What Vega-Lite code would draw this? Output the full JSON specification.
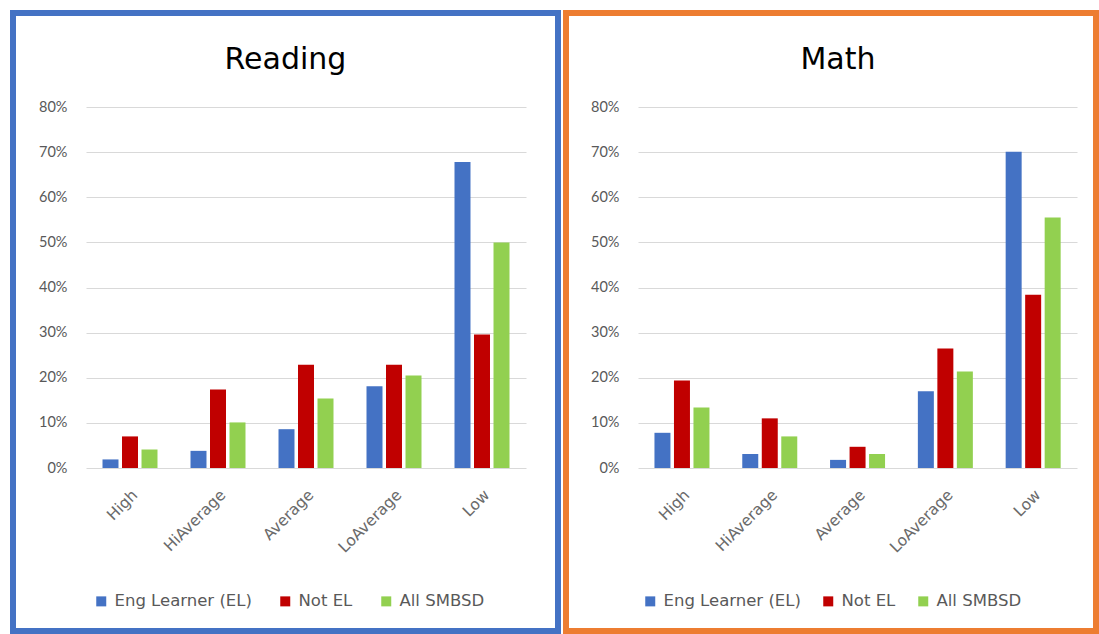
{
  "$schema": "https://vega.github.io/schema/vega-lite/v6.json",
  "padding": {"left": 10, "top": 10, "right": 0, "bottom": 0},
  "spacing": 2,
  "background": "white",
  "config": {
    "font": "Lato",
    "axis": {"labelFont": "Lato", "labelColor": "#595959", "labelFontSize": 14.5, "gridColor": "#d9d9d9", "gridWidth": 1, "domain": false, "ticks": false, "tickSize": 0, "title": null},
    "axisX": {"labelFont": "DejaVu Sans", "labelFontSize": 15.5, "labelColor": "#6a6a6a"},
    "legend": {"labelFont": "DejaVu Sans", "labelColor": "#595959", "labelFontSize": 16.5},
    "title": {"font": "DejaVu Sans", "fontSize": 30, "fontWeight": "normal", "color": "#000000"}
  },
  "data": {"values": [
    {"subject": "Reading", "level": "High", "group": "Eng Learner (EL)", "pct": 0.019},
    {"subject": "Reading", "level": "High", "group": "Not EL", "pct": 0.070},
    {"subject": "Reading", "level": "High", "group": "All SMBSD", "pct": 0.041},
    {"subject": "Reading", "level": "HiAverage", "group": "Eng Learner (EL)", "pct": 0.038},
    {"subject": "Reading", "level": "HiAverage", "group": "Not EL", "pct": 0.174},
    {"subject": "Reading", "level": "HiAverage", "group": "All SMBSD", "pct": 0.101},
    {"subject": "Reading", "level": "Average", "group": "Eng Learner (EL)", "pct": 0.086},
    {"subject": "Reading", "level": "Average", "group": "Not EL", "pct": 0.229},
    {"subject": "Reading", "level": "Average", "group": "All SMBSD", "pct": 0.154},
    {"subject": "Reading", "level": "LoAverage", "group": "Eng Learner (EL)", "pct": 0.181},
    {"subject": "Reading", "level": "LoAverage", "group": "Not EL", "pct": 0.229},
    {"subject": "Reading", "level": "LoAverage", "group": "All SMBSD", "pct": 0.205},
    {"subject": "Reading", "level": "Low", "group": "Eng Learner (EL)", "pct": 0.678},
    {"subject": "Reading", "level": "Low", "group": "Not EL", "pct": 0.296},
    {"subject": "Reading", "level": "Low", "group": "All SMBSD", "pct": 0.500},
    {"subject": "Math", "level": "High", "group": "Eng Learner (EL)", "pct": 0.078},
    {"subject": "Math", "level": "High", "group": "Not EL", "pct": 0.194},
    {"subject": "Math", "level": "High", "group": "All SMBSD", "pct": 0.134},
    {"subject": "Math", "level": "HiAverage", "group": "Eng Learner (EL)", "pct": 0.031},
    {"subject": "Math", "level": "HiAverage", "group": "Not EL", "pct": 0.110},
    {"subject": "Math", "level": "HiAverage", "group": "All SMBSD", "pct": 0.070},
    {"subject": "Math", "level": "Average", "group": "Eng Learner (EL)", "pct": 0.018},
    {"subject": "Math", "level": "Average", "group": "Not EL", "pct": 0.047},
    {"subject": "Math", "level": "Average", "group": "All SMBSD", "pct": 0.031},
    {"subject": "Math", "level": "LoAverage", "group": "Eng Learner (EL)", "pct": 0.170},
    {"subject": "Math", "level": "LoAverage", "group": "Not EL", "pct": 0.265},
    {"subject": "Math", "level": "LoAverage", "group": "All SMBSD", "pct": 0.214},
    {"subject": "Math", "level": "Low", "group": "Eng Learner (EL)", "pct": 0.701},
    {"subject": "Math", "level": "Low", "group": "Not EL", "pct": 0.384},
    {"subject": "Math", "level": "Low", "group": "All SMBSD", "pct": 0.555}
  ]},
  "resolve": {"scale": {"color": "independent"}, "legend": {"color": "independent"}},
  "hconcat": [
    {
      "width": 545,
      "height": 618,
      "view": {"stroke": "#4472C4", "strokeWidth": 6},
      "title": {"text": "Reading", "anchor": "middle", "frame": "group", "offset": -62},
      "transform": [{"filter": "datum.subject === 'Reading'"}],
      "mark": {"type": "bar"},
      "encoding": {
        "x": {"field": "level", "type": "nominal", "sort": ["High", "HiAverage", "Average", "LoAverage", "Low"],
              "scale": {"range": [73, 513], "paddingInner": 0.375, "paddingOuter": 0.1875},
              "axis": {"offset": -164, "labelAngle": -45, "labelPadding": 20, "grid": false}},
        "xOffset": {"field": "group", "type": "nominal", "sort": ["Eng Learner (EL)", "Not EL", "All SMBSD"], "scale": {"paddingInner": 0.18, "paddingOuter": 0}},
        "y": {"field": "pct", "type": "quantitative",
              "scale": {"domain": [0, 0.8], "range": [455, 94]},
              "axis": {"format": ".0%", "values": [0, 0.1, 0.2, 0.3, 0.4, 0.5, 0.6, 0.7, 0.8], "offset": -73, "labelPadding": 19, "grid": true}},
        "color": {"field": "group", "type": "nominal", "sort": ["Eng Learner (EL)", "Not EL", "All SMBSD"],
                  "scale": {"domain": ["Eng Learner (EL)", "Not EL", "All SMBSD"], "range": ["#4472C4", "#C00000", "#92D050"]},
                  "legend": {"orient": "none", "legendX": 80, "legendY": 580, "direction": "horizontal", "columns": 3, "title": null, "symbolType": "square", "symbolSize": 100, "symbolStrokeWidth": 0, "columnPadding": 25, "labelOffset": 5}}
      }
    },
    {
      "width": 530,
      "height": 618,
      "view": {"stroke": "#ED7D31", "strokeWidth": 6},
      "title": {"text": "Math", "anchor": "middle", "frame": "group", "offset": -62, "dx": 7},
      "transform": [{"filter": "datum.subject === 'Math'"}],
      "mark": {"type": "bar"},
      "encoding": {
        "x": {"field": "level", "type": "nominal", "sort": ["High", "HiAverage", "Average", "LoAverage", "Low"],
              "scale": {"range": [72, 511], "paddingInner": 0.375, "paddingOuter": 0.1875},
              "axis": {"offset": -164, "labelAngle": -45, "labelPadding": 20, "grid": false}},
        "xOffset": {"field": "group", "type": "nominal", "sort": ["Eng Learner (EL)", "Not EL", "All SMBSD"], "scale": {"paddingInner": 0.18, "paddingOuter": 0}},
        "y": {"field": "pct", "type": "quantitative",
              "scale": {"domain": [0, 0.8], "range": [455, 94]},
              "axis": {"format": ".0%", "values": [0, 0.1, 0.2, 0.3, 0.4, 0.5, 0.6, 0.7, 0.8], "offset": -72, "labelPadding": 19, "grid": true}},
        "color": {"field": "group", "type": "nominal", "sort": ["Eng Learner (EL)", "Not EL", "All SMBSD"],
                  "scale": {"domain": ["Eng Learner (EL)", "Not EL", "All SMBSD"], "range": ["#4472C4", "#C00000", "#92D050"]},
                  "legend": {"orient": "none", "legendX": 76, "legendY": 580, "direction": "horizontal", "columns": 3, "title": null, "symbolType": "square", "symbolSize": 100, "symbolStrokeWidth": 0, "columnPadding": 19, "labelOffset": 5}}
      }
    }
  ]
}
